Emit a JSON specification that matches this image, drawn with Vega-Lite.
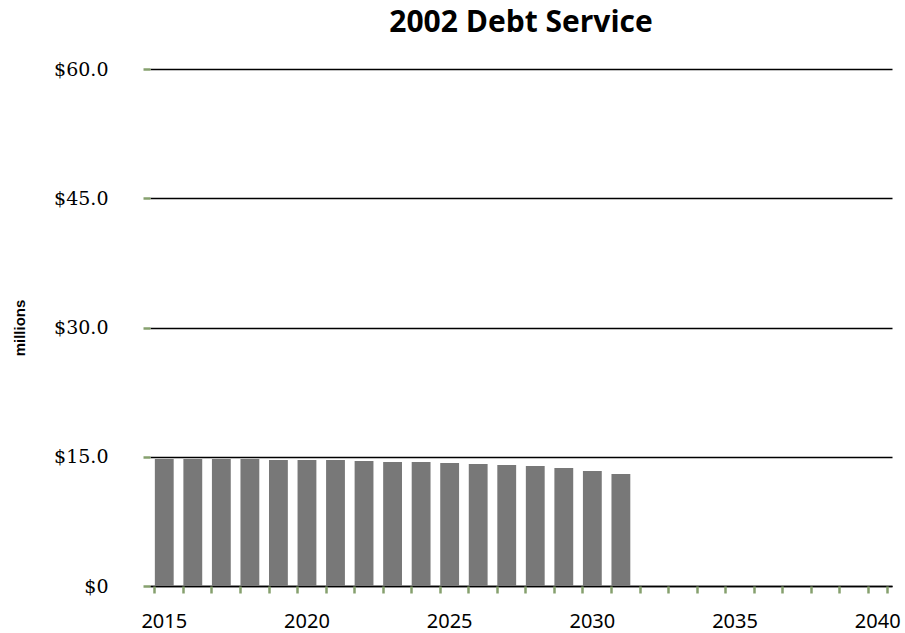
{
  "$schema": "https://vega.github.io/schema/vega-lite/v6.json",
  "width": 742,
  "height": 517,
  "autosize": "none",
  "padding": {"left": 150, "top": 69, "right": 13, "bottom": 47},
  "background": "white",
  "title": {
    "text": "2002 Debt Service",
    "font": "Open Sans",
    "fontWeight": "bold",
    "fontSize": 30,
    "color": "black",
    "anchor": "middle",
    "offset": 22
  },
  "config": {
    "view": {"stroke": null}
  },
  "data": {
    "values": [
      {"year": 2015, "value": 14.73},
      {"year": 2016, "value": 14.73},
      {"year": 2017, "value": 14.73},
      {"year": 2018, "value": 14.73},
      {"year": 2019, "value": 14.62},
      {"year": 2020, "value": 14.62},
      {"year": 2021, "value": 14.62},
      {"year": 2022, "value": 14.5},
      {"year": 2023, "value": 14.39},
      {"year": 2024, "value": 14.39},
      {"year": 2025, "value": 14.27},
      {"year": 2026, "value": 14.15},
      {"year": 2027, "value": 14.04},
      {"year": 2028, "value": 13.92},
      {"year": 2029, "value": 13.69},
      {"year": 2030, "value": 13.34},
      {"year": 2031, "value": 12.99},
      {"year": 2032, "value": 0},
      {"year": 2033, "value": 0},
      {"year": 2034, "value": 0},
      {"year": 2035, "value": 0},
      {"year": 2036, "value": 0},
      {"year": 2037, "value": 0},
      {"year": 2038, "value": 0},
      {"year": 2039, "value": 0},
      {"year": 2040, "value": 0}
    ]
  },
  "resolve": {"axis": {"x": "independent"}},
  "layer": [
    {
      "mark": {"type": "bar", "color": "#787878"},
      "encoding": {
        "x": {
          "field": "year",
          "type": "ordinal",
          "scale": {"paddingInner": 0.34, "paddingOuter": 0.17},
          "axis": {
            "orient": "bottom",
            "title": null,
            "labelAngle": 0,
            "ticks": false,
            "domain": true,
            "domainColor": "black",
            "domainWidth": 1.5,
            "labelExpr": "datum.value % 5 == 0 ? datum.label : ''",
            "labelFont": "Noto Sans",
            "labelFontSize": 20,
            "labelColor": "black",
            "labelPadding": 25
          }
        },
        "y": {
          "field": "value",
          "type": "quantitative",
          "scale": {"domain": [0, 60]},
          "axis": {
            "title": "millions",
            "titleFont": "Liberation Sans",
            "titleFontWeight": "bold",
            "titleFontSize": 15,
            "titleColor": "black",
            "titlePadding": 26,
            "values": [0, 15, 30, 45, 60],
            "labelExpr": "datum.value == 0 ? '$0' : '$' + format(datum.value, '.1f')",
            "labelFont": "DejaVu Serif",
            "labelFontSize": 19,
            "labelColor": "black",
            "labelPadding": 35,
            "grid": true,
            "gridColor": "black",
            "gridWidth": 1.5,
            "domain": false,
            "ticks": true,
            "tickColor": "#86a06e",
            "tickWidth": 2.5,
            "tickSize": 7
          }
        }
      }
    },
    {
      "mark": {"type": "bar", "opacity": 0},
      "encoding": {
        "x": {
          "field": "year",
          "type": "ordinal",
          "axis": {
            "orient": "bottom",
            "title": null,
            "bandPosition": 0,
            "labels": false,
            "domain": false,
            "ticks": true,
            "tickColor": "#86a06e",
            "tickWidth": 2.5,
            "tickSize": 7
          }
        },
        "y": {"field": "value", "type": "quantitative"}
      }
    },
    {
      "mark": {"type": "bar", "opacity": 0},
      "encoding": {
        "x": {
          "field": "year",
          "type": "ordinal",
          "axis": {
            "orient": "bottom",
            "title": null,
            "bandPosition": 1,
            "values": [2040],
            "labels": false,
            "domain": false,
            "ticks": true,
            "tickColor": "#86a06e",
            "tickWidth": 2.5,
            "tickSize": 7
          }
        },
        "y": {"field": "value", "type": "quantitative"}
      }
    }
  ]
}
